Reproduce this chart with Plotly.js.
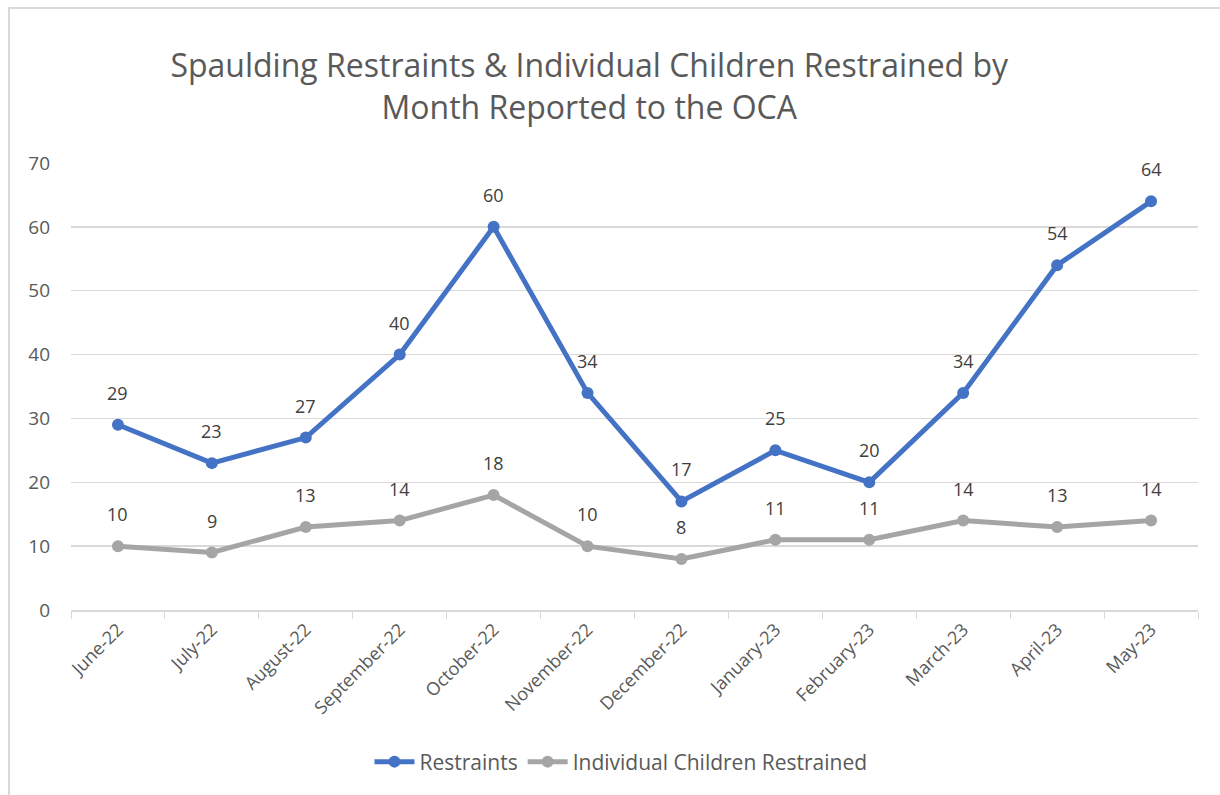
<!DOCTYPE html>
<html>
<head>
<meta charset="utf-8">
<script src="https://cdn.plot.ly/plotly-3.0.1.min.js"></script>
<style>
html,body{margin:0;padding:0;background:#fff;}
#frame{position:absolute;left:8px;top:7px;width:1230px;height:800px;border-left:2px solid #d9d9d9;border-top:2px solid #d9d9d9;}
#chart{position:absolute;left:0;top:0;width:1220px;height:795px;}
</style>
</head>
<body>
<div id="frame"></div>
<div id="chart"></div>
<script>
const months = ["June-22","July-22","August-22","September-22","October-22","November-22","December-22","January-23","February-23","March-23","April-23","May-23"];
const restraints = [29,23,27,40,60,34,17,25,20,34,54,64];
const children = [10,9,13,14,18,10,8,11,11,14,13,14];
const seriesNames = ["Restraints","Individual Children Restrained"];
const titleText = "Spaulding Restraints & Individual Children Restrained by<br>Month Reported to the OCA";

const FONT = "Open Sans, sans-serif";
const traces = [
  {x: months, y: restraints, name: seriesNames[0], type: "scatter", mode: "lines+markers",
   line: {color: "#4472C4", width: 5}, marker: {color: "#4472C4", size: 12}},
  {x: months, y: children, name: seriesNames[1], type: "scatter", mode: "lines+markers",
   line: {color: "#A5A5A5", width: 5}, marker: {color: "#A5A5A5", size: 12}}
];
const annotations = [];
[restraints, children].forEach(arr => {
  arr.forEach((v, i) => {
    annotations.push({x: months[i], y: v, xref: "x", yref: "y", text: String(v), showarrow: false,
      yshift: 32, font: {family: FONT, size: 18, color: "#404040"}});
  });
});
const layout = {
  width: 1220, height: 795,
  paper_bgcolor: "rgba(0,0,0,0)", plot_bgcolor: "rgba(0,0,0,0)",
  margin: {l: 71, r: 22, t: 163, b: 185},
  font: {family: FONT, color: "#595959"},
  title: {text: titleText, font: {family: FONT, size: 32, color: "#595959"},
    x: 0.483, xref: "container", xanchor: "center", y: 0.903, yref: "container", yanchor: "top"},
  xaxis: {type: "category", tickson: "boundaries", ticks: "outside", ticklen: 7, tickcolor: "#d9d9d9",
    showline: true, linecolor: "#d9d9d9", linewidth: 2, showgrid: false, tickangle: -45,
    tickfont: {family: FONT, size: 18, color: "#595959"}, range: [-0.5, 11.5]},
  yaxis: {range: [0, 70], dtick: 10, showgrid: true, gridcolor: "#d9d9d9", gridwidth: 1.5,
    zeroline: false, showline: false, ticks: "", tickfont: {family: FONT, size: 19, color: "#595959"},
    ticklabelstandoff: 20},
  showlegend: true,
  legend: {orientation: "h", x: 0.488, xanchor: "center", y: -0.34, yanchor: "middle",
    font: {family: FONT, size: 21, color: "#595959"}, itemwidth: 40},
  annotations: annotations
};
Plotly.newPlot("chart", traces, layout, {displayModeBar: false, staticPlot: true});
</script>
</body>
</html>
